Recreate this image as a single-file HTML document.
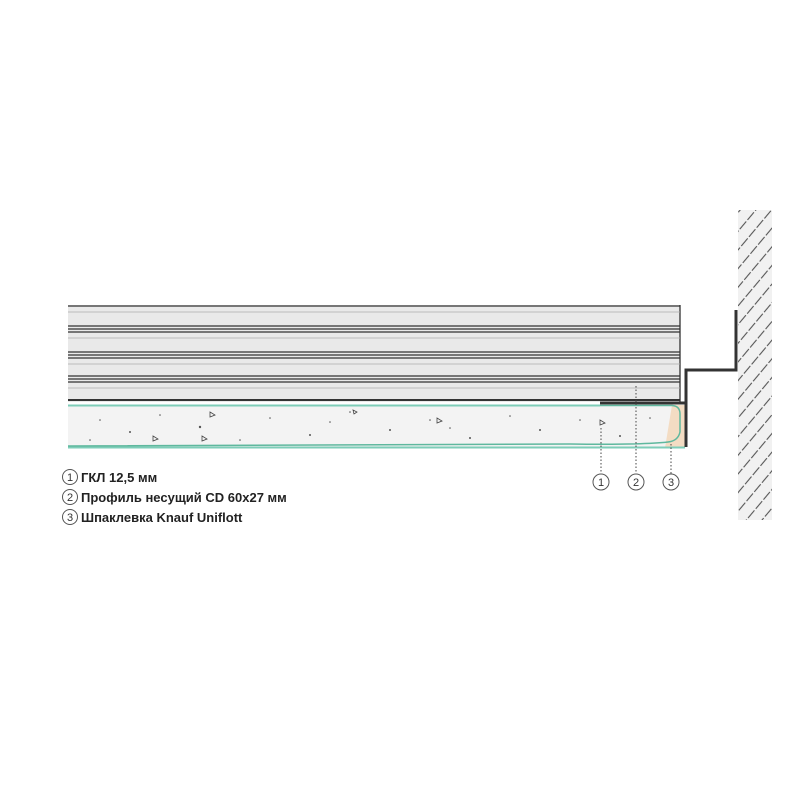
<!DOCTYPE html>
<html><head><meta charset="utf-8"><style>html,body{margin:0;padding:0;background:#fff}svg{display:block}</style></head><body>
<svg width="800" height="800" viewBox="0 0 800 800" xmlns="http://www.w3.org/2000/svg" font-family="Liberation Sans, sans-serif">
<defs>
<pattern id="hatch" width="12" height="12" patternUnits="userSpaceOnUse" patternTransform="rotate(-50)">
<rect width="12" height="12" fill="#f1f1f1"/>
<line x1="0" y1="6" x2="10" y2="6" stroke="#555" stroke-width="1.1"/>
</pattern>
</defs>
<rect x="738" y="210" width="34" height="310" fill="url(#hatch)"/>
<rect x="68" y="305" width="612" height="97" fill="#e9e9e9"/>
<g stroke="#333" stroke-width="1.3">
<line x1="68" y1="306" x2="680" y2="306"/>
<line x1="68" y1="326" x2="680" y2="326"/>
<line x1="68" y1="329" x2="680" y2="329"/>
<line x1="68" y1="332" x2="680" y2="332"/>
<line x1="68" y1="352" x2="680" y2="352"/>
<line x1="68" y1="355" x2="680" y2="355"/>
<line x1="68" y1="358" x2="680" y2="358"/>
<line x1="68" y1="376" x2="680" y2="376"/>
<line x1="68" y1="379" x2="680" y2="379"/>
<line x1="68" y1="382" x2="680" y2="382"/>
<line x1="68" y1="400" x2="680" y2="400" stroke-width="2"/>
<line x1="680" y1="305" x2="680" y2="402"/>
</g>
<g stroke="#aaa" stroke-width="0.8">
<line x1="68" y1="312" x2="680" y2="312"/>
<line x1="68" y1="338" x2="680" y2="338"/>
<line x1="68" y1="364" x2="680" y2="364"/>
<line x1="68" y1="388" x2="680" y2="388"/>
</g>
<rect x="68" y="405" width="617" height="43" fill="#f3f3f3"/>
<path d="M672 405 L685 405 L685 448 L665 448 Z" fill="#f3dcc3"/>
<line x1="68" y1="405.5" x2="600" y2="405.5" stroke="#7ecdb8" stroke-width="2"/>
<line x1="68" y1="447.5" x2="685" y2="447.5" stroke="#7ecdb8" stroke-width="2"/>
<path d="M600 405.5 L672 405.5 Q680 406 680 414 L680 432 Q678 441 668 442 Q640 445 570 444 L68 446" fill="none" stroke="#5fb89e" stroke-width="1.5"/>
<g fill="#555">
<circle cx="100" cy="420" r="0.8"/><circle cx="130" cy="432" r="1"/><circle cx="160" cy="415" r="0.8"/><circle cx="200" cy="427" r="1.2"/><circle cx="240" cy="440" r="0.8"/><circle cx="270" cy="418" r="0.8"/><circle cx="310" cy="435" r="1"/><circle cx="350" cy="412" r="0.8"/><circle cx="390" cy="430" r="1"/><circle cx="430" cy="420" r="0.8"/><circle cx="470" cy="438" r="1"/><circle cx="510" cy="416" r="0.8"/><circle cx="540" cy="430" r="1"/><circle cx="580" cy="420" r="0.8"/><circle cx="620" cy="436" r="1"/><circle cx="650" cy="418" r="0.8"/><circle cx="90" cy="440" r="0.8"/><circle cx="330" cy="422" r="0.8"/><circle cx="450" cy="428" r="0.8"/>
</g>
<g fill="none" stroke="#444" stroke-width="0.8">
<path d="M153 436 l5 3 l-5 2 z"/><path d="M202 436 l5 3 l-5 2 z"/><path d="M210 412 l5 3 l-5 2 z"/><path d="M437 418 l5 3 l-5 2 z"/><path d="M600 420 l5 3 l-5 2 z"/><path d="M353 410 l4 2 l-3 2 z"/>
</g>
<path d="M736 310 L736 370 L686 370 L686 447" fill="none" stroke="#333" stroke-width="3"/>
<line x1="600" y1="403" x2="686" y2="403" stroke="#333" stroke-width="3"/>
<g stroke="#444" stroke-width="1" stroke-dasharray="1.5,2">
<line x1="601" y1="428" x2="601" y2="474"/>
<line x1="636" y1="386" x2="636" y2="474"/>
<line x1="671" y1="444" x2="671" y2="474"/>
</g>
<g fill="#fff" stroke="#555" stroke-width="1">
<circle cx="601" cy="482" r="8"/><circle cx="636" cy="482" r="8"/><circle cx="671" cy="482" r="8"/>
</g>
<g font-size="11" fill="#333" text-anchor="middle">
<text x="601" y="486">1</text><text x="636" y="486">2</text><text x="671" y="486">3</text>
</g>
<g fill="#fff" stroke="#555" stroke-width="1">
<circle cx="70" cy="477" r="7.5"/><circle cx="70" cy="497" r="7.5"/><circle cx="70" cy="517" r="7.5"/>
</g>
<g font-size="11" fill="#333" text-anchor="middle">
<text x="70" y="481">1</text><text x="70" y="501">2</text><text x="70" y="521">3</text>
</g>
<g font-size="13" fill="#222" font-weight="bold">
<text x="81" y="482">ГКЛ 12,5 мм</text>
<text x="81" y="502">Профиль несущий CD 60x27 мм</text>
<text x="81" y="522">Шпаклевка Knauf Uniflott</text>
</g>
</svg>
</body></html>
